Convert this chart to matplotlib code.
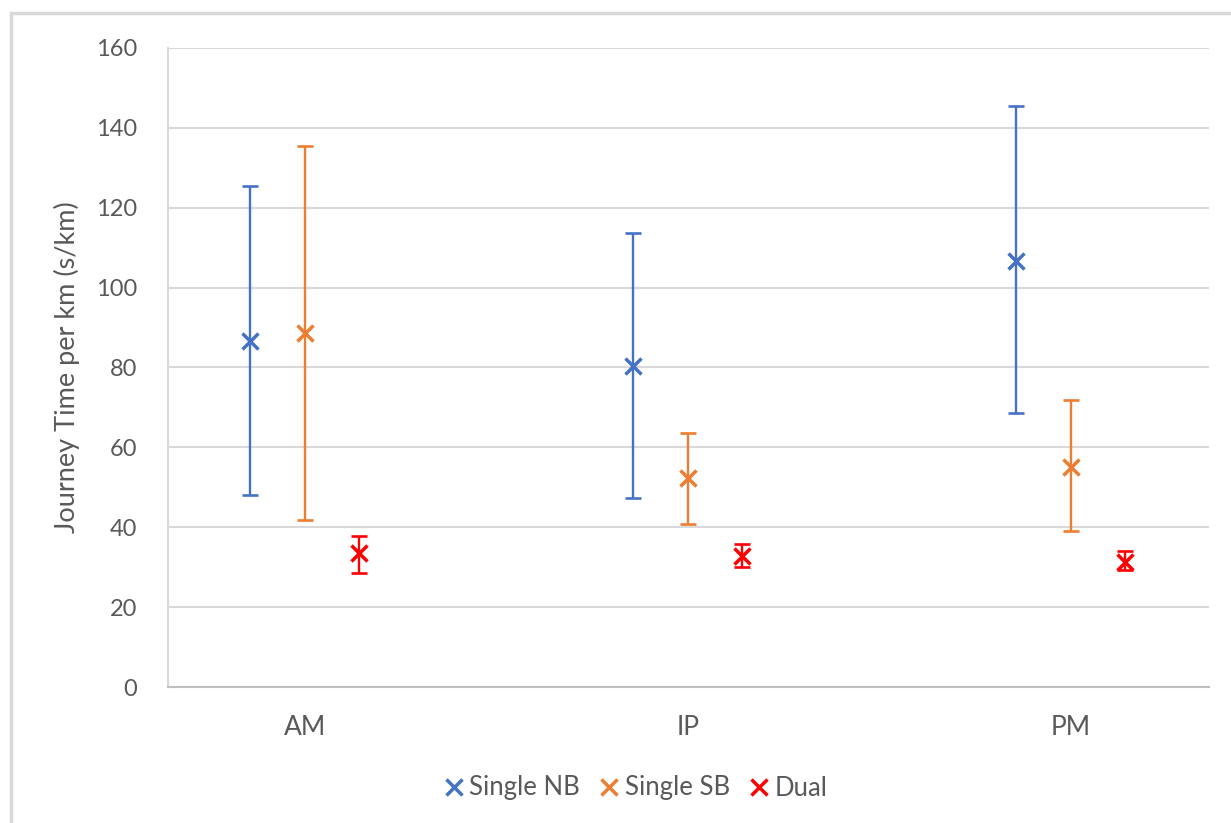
import matplotlib
matplotlib.use("Agg")
import matplotlib.pyplot as plt
from matplotlib.lines import Line2D
from matplotlib.patches import Rectangle
import numpy as np

categories = ["AM", "IP", "PM"]
series_names = ["Single NB", "Single SB", "Dual"]
nb_mean = [86.6, 80.4, 106.7]
nb_upper = [125.4, 113.7, 145.5]
nb_lower = [48.1, 47.3, 68.6]
sb_mean = [88.6, 52.3, 55.1]
sb_upper = [135.5, 63.6, 71.9]
sb_lower = [41.8, 40.8, 39.1]
dual_mean = [33.5, 32.8, 31.4]
dual_upper = [37.9, 35.7, 34.0]
dual_lower = [28.6, 30.0, 29.4]
y_ticks = [0, 20, 40, 60, 80, 100, 120, 140, 160]

colors = ["#4472C4", "#ED7D31", "#FF0000"]
offsets = [-0.144, 0.0, 0.14]
font = ["Lato", "DejaVu Sans"]
txt_color = "#595959"

fig = plt.figure(figsize=(12.31, 8.23), dpi=100)
fig.patches.append(Rectangle((11/1231, -0.1), 1.2, 1.1 - 13/823, transform=fig.transFigure,
                             fill=False, edgecolor="#d9d9d9", linewidth=2.5))
ax = fig.add_axes([168/1231, (823-687)/823, (1209-168)/1231, (687-48)/823])

x = np.arange(len(categories))
series = [(nb_mean, nb_upper, nb_lower), (sb_mean, sb_upper, sb_lower), (dual_mean, dual_upper, dual_lower)]
for (m, u, l), c, off in zip(series, colors, offsets):
    m = np.array(m); u = np.array(u); l = np.array(l)
    ax.errorbar(x + off, m, yerr=[m - l, u - m], fmt="none", ecolor=c, elinewidth=1.7,
                capsize=5.5, capthick=1.9, zorder=3)
    ax.plot(x + off, m, linestyle="none", marker="x", markersize=11.5, markeredgewidth=2.5,
            color=c, zorder=4)

ax.set_xlim((168-305)/383, (1209-305)/383)
ax.set_ylim(0, 160)
ax.set_yticks(y_ticks)
ax.set_xticks(x)
ax.set_xticklabels(categories)
ax.grid(axis="y", color="#d9d9d9", linewidth=1.5)
ax.set_axisbelow(True)
for s in ["top", "right"]:
    ax.spines[s].set_visible(False)
ax.spines["left"].set_color("#d9d9d9")
ax.spines["left"].set_linewidth(1.5)
ax.spines["bottom"].set_color("#bfbfbf")
ax.spines["bottom"].set_linewidth(1.5)
ax.tick_params(axis="y", length=0, labelsize=17, labelcolor=txt_color, pad=22)
ax.tick_params(axis="x", length=0, labelsize=19, labelcolor=txt_color, pad=20)
for lab in ax.get_xticklabels() + ax.get_yticklabels():
    lab.set_family(font)
ax.set_ylabel("Journey Time per km (s/km)", fontsize=19.5, color=txt_color, family=font, labelpad=12)

handles = [Line2D([], [], linestyle="none", marker="x", markersize=11, markeredgewidth=2.5, color=c)
           for c in colors]
leg = fig.legend(handles, series_names, loc="center", bbox_to_anchor=(633/1231, 1 - 788/823),
                 ncol=3, frameon=False, handletextpad=0.0, handlelength=1.2, columnspacing=0.55,
                 prop={"family": font, "size": 18.5})
for t in leg.get_texts():
    t.set_color(txt_color)

fig.savefig("out.png", dpi=100, facecolor="white")
